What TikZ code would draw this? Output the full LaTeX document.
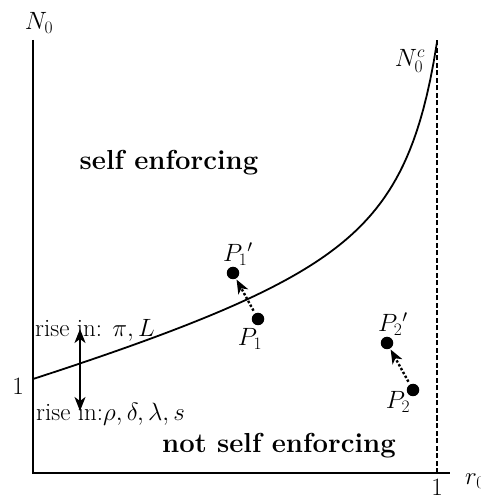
\RequirePackage{fix-cm}
\documentclass[tikz,border=0pt]{standalone}
\usetikzlibrary{arrows.meta}

\begin{document}
\begin{tikzpicture}[x=1pt,y=1pt]
\tikzset{
  axis/.style={line width=1.6pt},
  txt/.style={font=\fontsize{25}{29}\selectfont,inner sep=1pt},
  region/.style={font=\fontsize{27.5}{31}\selectfont\bfseries,inner sep=1pt},
  dot/.style={circle,fill,inner sep=0pt,minimum size=12.5pt},
  move/.style={dotted,line width=2.4pt,-{Stealth[length=14pt,width=11pt,inset=4pt]},shorten <=3pt,shorten >=1pt},
  riseline/.style={line width=1.6pt,{Stealth[length=14pt,width=11pt,inset=4pt]}-{Stealth[length=14pt,width=11pt,inset=4pt]}}
}
\useasboundingbox (-33,-28) rectangle (447,473);
% axes
\coordinate (o) at (0,0);
\coordinate (ytop) at (0,433);
\coordinate (xend) at (417,0);
\coordinate (d0) at (404,0);
\coordinate (d1) at (404,433);
\draw[axis] (ytop) -- (o) -- (xend);
\draw[line width=1.3pt,dash pattern=on 5pt off 2.5pt] (d0) -- (d1);
\node[txt] (n_N0) at (6,450) {$N_0$};
\node[txt] (n_r0) at (442,-8) {$r_0$};
\node[txt] (n_one_x) at (404,-14) {1};
\node[txt,anchor=east] (n_one_y) at (-8,87) {1};
% boundary N_0^c
\draw[line width=1.8pt] plot[domain=0:404,samples=120] (\x,{71.6+0.2746*\x+9939/(444-\x)});
\node[txt] (n_Nc) at (377,412) {$N_0^c$};
% regions
\node[region] (n_self) at (136,310) {self enforcing};
\node[region] (n_notself) at (246,27) {not self enforcing};
% parameter shifts
\node[txt,anchor=west] (n_up) at (1,143) {rise in: $\pi,L$};
\node[txt,anchor=west] (n_down) at (2,59) {rise in:$\rho,\delta,\lambda,s$};
\coordinate (a_top) at (47,144);
\coordinate (a_bot) at (47,62);
\draw[riseline] (a_bot) -- (a_top);
% points
\node[dot] (p1) at (225,154) {};
\node[dot] (p1b) at (200,200) {};
\node[dot] (p2) at (380,83) {};
\node[dot] (p2b) at (354,130) {};
\node[txt] (l_p1) at (217,134) {$P_1$};
\node[txt] (l_p1b) at (205,219) {$P_1{}'$};
\node[txt] (l_p2) at (365,71) {$P_2$};
\node[txt] (l_p2b) at (360,149) {$P_2{}'$};
\draw[move] (p1) -- (p1b);
\draw[move] (p2) -- (p2b);
\end{tikzpicture}
\end{document}
